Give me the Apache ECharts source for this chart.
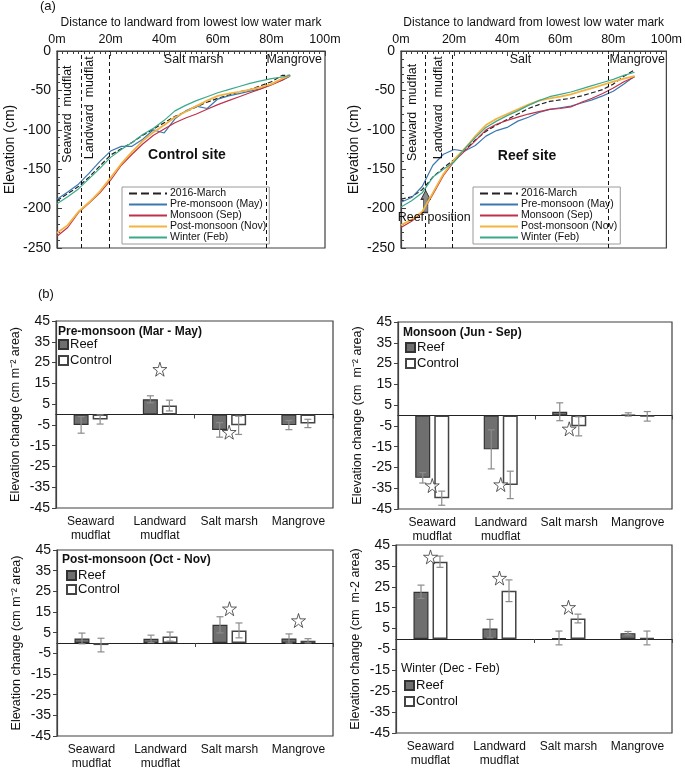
<!DOCTYPE html>
<html><head><meta charset="utf-8">
<script src="https://cdn.jsdelivr.net/npm/echarts@6/dist/echarts.min.js"></script>
<style>html,body{margin:0;padding:0;background:#fff}#c{width:685px;height:771px}</style>
</head><body><div id="c"></div>
<script>
const FONT = 'Liberation Sans, Arial, sans-serif';

// ---------- (a) elevation profiles ----------
const controlDistance = [0,4,8,12,16,20,24,28,32,36,40,44,48,52,56,60,64,68,72,76,80,84,87];
const controlMarch   = [-190,-181,-172,-160,-146,-132,-124,-116,-107,-99,-91,-83,-77,-71,-65,-60,-56,-52,-49,-44,-39,-31,-31];
const controlPre     = [-188,-179,-169,-155,-140,-127,-121,-121,-112,-100,-104,-86,-76,-70,-73,-61,-57,-54,-51,-48,-42,-37,-32];
const controlMonsoon = [-235,-224,-205,-193,-180,-164,-145,-131,-118,-107,-99,-91,-85,-80,-74,-68,-63,-58,-53,-48,-43,-37,-31];
const controlPost    = [-231,-221,-204,-192,-178,-161,-143,-128,-114,-103,-94,-84,-77,-70,-63,-57,-54,-52,-49,-46,-42,-35,-31];
const controlWinter  = [-194,-185,-175,-162,-149,-135,-125,-116,-106,-98,-88,-76,-69,-63,-58,-53,-49,-45,-41,-38,-35,-33,-31];

const reefDistance = [0,4,8,12,16,20,24,28,32,36,40,44,48,52,56,60,64,68,72,76,80,84,88];
const reefMarch   = [-188,-185,-176,-160,-148,-138,-126,-113,-102,-94,-87,-80,-73,-68,-64,-62,-60,-57,-53,-49,-42,-32,-24];
const reefPre     = [-192,-186,-172,-145,-131,-125,-127,-120,-108,-101,-97,-89,-84,-78,-74,-72,-70,-66,-62,-57,-51,-42,-32];
const reefMonsoon = [-224,-216,-205,-182,-158,-140,-127,-114,-100,-93,-88,-84,-80,-77,-74,-73,-71,-65,-60,-54,-47,-39,-33];
const reefPost    = [-221,-214,-204,-180,-156,-138,-124,-108,-94,-86,-80,-74,-68,-63,-60,-58,-55,-51,-47,-43,-39,-35,-32];
const reefWinter  = [-198,-190,-180,-160,-150,-141,-124,-110,-97,-89,-82,-76,-69,-63,-58,-55,-52,-48,-44,-40,-36,-31,-27];

const profileNames = ['2016-March','Pre-monsoon (May)','Monsoon (Sep)','Post-monsoon (Nov)','Winter (Feb)'];
const zoneBounds = [9, 19.5, 78];

// ---------- (b) elevation change ----------
const zones = ['Seaward\nmudflat','Landward\nmudflat','Salt marsh','Mangrove'];
const preReef = [-5.0, 7.3, -7.4, -5.1];     const preReefErr = [4.0, 1.7, 3.5, 2.2];
const preCtrl = [-2.4, 4.3, -5.2, -4.3];     const preCtrlErr = [2.2, 2.6, 4.4, 2.0];
const preStars = [null, 21.8, -8.5, null];
const monReef = [-30.0, -16.3, 1.8, 0.5];    const monReefErr = [2.5, 9.4, 4.3, 0.8];
const monCtrl = [-39.8, -33.4, -5.2, -0.4];  const monCtrlErr = [3.4, 6.6, 4.6, 2.3];
const monStars = [-33.7, -33.2, -6.4, null];
const postReef = [2.2, 2.0, 8.8, 2.2];       const postReefErr = [2.6, 1.8, 3.9, 2.2];
const postCtrl = [-1.0, 3.1, 6.1, 1.1];      const postCtrlErr = [3.3, 2.2, 3.6, 1.0];
const postStars = [null, null, 16.6, 10.9];
const winReef = [22.6, 5.0, 0.5, 2.8];       const winReefErr = [3.2, 4.4, 3.3, 0.8];
const winCtrl = [37.0, 23.1, 9.8, 0.5];      const winCtrlErr = [2.7, 5.2, 2.1, 3.3];
const winStars = [39.3, 29.2, 15.2, null];

// ---------- styles ----------
const profileColors = ['#222222','#3b78b0','#c0304a','#f2b340','#3aa98a'];
const profileWidths = [1.2, 1.2, 1.2, 1.8, 1.2];
const profileTypes = ['dashed','solid','solid','solid','solid'];
const STAR = 'path://M50,0 L61,35 L98,35 L68,57 L79,91 L50,70 L21,91 L32,57 L2,35 L39,35 Z';
const ARROW = 'path://M35,0 L70,40 L52,40 L52,100 L18,100 L18,40 L0,40 Z';

const grids = [
  {left:57, top:51, width:268, height:197},
  {left:401, top:51, width:266, height:197},
  {left:56, top:321, width:277, height:187},
  {left:398, top:322, width:274, height:187},
  {left:57, top:550, width:276, height:186},
  {left:396, top:545, width:276, height:188}
].map(g => Object.assign({show:true, borderColor:'#404040', borderWidth:1.2, backgroundColor:'#fff'}, g));

const xAxes = [], yAxes = [], series = [], titles = [], legends = [];

// profile panels
[[controlDistance,[controlMarch,controlPre,controlMonsoon,controlPost,controlWinter]],
 [reefDistance,[reefMarch,reefPre,reefMonsoon,reefPost,reefWinter]]].forEach(([dist, sets], g) => {
  xAxes.push({
    type:'value', gridIndex:g, position:'top', min:0, max:100, interval:20,
    name:'Distance to landward from lowest low water mark', nameLocation:'middle', nameGap:22,
    nameTextStyle:{fontFamily:FONT, fontSize:12, color:'#111'},
    axisLine:{lineStyle:{color:'#404040', width:1.2}},
    axisTick:{inside:true, length:5, lineStyle:{color:'#404040'}},
    minorTick:{show:true, splitNumber:10, length:3, lineStyle:{color:'#404040'}},
    axisLabel:{formatter:'{value}m', fontFamily:FONT, fontSize:12.5, color:'#111', margin:5},
    splitLine:{show:false}
  });
  yAxes.push({
    type:'value', gridIndex:g, min:-250, max:0, interval:50,
    name:'Elevation (cm)', nameLocation:'middle', nameGap:40, nameRotate:90,
    nameTextStyle:{fontFamily:FONT, fontSize:14, color:'#111'},
    axisLine:{show:true, lineStyle:{color:'#404040', width:1.2}},
    axisTick:{inside:true, length:5, lineStyle:{color:'#404040'}},
    minorTick:{show:true, splitNumber:5, length:3, lineStyle:{color:'#404040'}},
    axisLabel:{fontFamily:FONT, fontSize:14, color:'#111', margin:6},
    splitLine:{show:false}
  });
  sets.forEach((vals, i) => {
    const s = {
      type:'line', name:profileNames[i], xAxisIndex:g, yAxisIndex:g,
      data: dist.map((d, j) => [d, vals[j]]),
      symbol:'none', showSymbol:false, smooth:false, z:2+i,
      lineStyle:{color:profileColors[i], width:profileWidths[i], type:profileTypes[i]},
      itemStyle:{color:profileColors[i]}
    };
    if (i === 0) {
      s.markLine = {silent:true, symbol:'none', label:{show:false},
        lineStyle:{color:'#111', type:[4,3], width:1}, data: zoneBounds.map(b => ({xAxis:b}))};
    }
    if (g === 1 && i === 0) {
      s.markPoint = {silent:true, data:[{coord:[9.3,-191], symbol:ARROW, symbolSize:[9,22],
        itemStyle:{color:'#8c8c8c', borderColor:'#333', borderWidth:1}, label:{show:false}}]};
    }
    series.push(s);
  });
  legends.push({
    data: profileNames, orient:'vertical', left: g === 0 ? 122 : 473, top:187,
    itemWidth:38, itemHeight:9, itemGap:0, padding:[1,3,1,6],
    itemStyle:{opacity:0},
    borderColor:'#9a9a9a', borderWidth:1, backgroundColor:'#fff', selectedMode:false,
    textStyle:{fontFamily:FONT, fontSize:10.5, color:'#111', padding:[0,0,0,-2]}
  });
});

// bar panels
const barSets = [
  ['Pre-monsoon (Mar - May)', preReef, preReefErr, preCtrl, preCtrlErr, preStars, 'Elevation change (cm m⁻² area)', true, {l:58, t:326}, {l:58, t:338, gap:3}],
  ['Monsoon (Jun - Sep)', monReef, monReefErr, monCtrl, monCtrlErr, monStars, 'Elevation change (cm  m⁻² area)', true, {l:403, t:327}, {l:405, t:341, gap:3}],
  ['Post-monsoon (Oct - Nov)', postReef, postReefErr, postCtrl, postCtrlErr, postStars, 'Elevation change (cm m⁻² area)', true, {l:62, t:554}, {l:66, t:569, gap:1}],
  ['Winter (Dec - Feb)', winReef, winReefErr, winCtrl, winCtrlErr, winStars, 'Elevation change (cm  m-2 area)', false, {l:401, t:663}, {l:404, t:679, gap:3}]
];
function errRender(offset) {
  return function (params, api) {
    const c = api.value(0), v = api.value(1), e = api.value(2);
    const p1 = api.coord([c, v + e]), p2 = api.coord([c, v - e]);
    const x = p1[0] + offset;
    const st = {stroke:'#8c8c8c', lineWidth:1.2};
    return {type:'group', children:[
      {type:'line', shape:{x1:x, y1:p1[1], x2:x, y2:p2[1]}, style:st},
      {type:'line', shape:{x1:x-3.5, y1:p1[1], x2:x+3.5, y2:p1[1]}, style:st},
      {type:'line', shape:{x1:x-3.5, y1:p2[1], x2:x+3.5, y2:p2[1]}, style:st}
    ]};
  };
}
barSets.forEach((b, k) => {
  const [title, reef, reefErr, ctrl, ctrlErr, stars, yname, bold, tpos, lpos] = b;
  const g = 2 + k;
  const xa = xAxes.length;
  xAxes.push({type:'category', gridIndex:g, data:zones, position:'bottom',
    axisLine:{show:false, onZero:false}, axisTick:{show:false},
    axisLabel:{fontFamily:FONT, fontSize:12, color:'#111', lineHeight:14, margin:7, interval:0}});
  xAxes.push({type:'category', gridIndex:g, data:zones, position:'bottom',
    axisLine:{show:true, onZero:true, lineStyle:{color:'#222', width:1.2}},
    axisTick:{show:true, length:4, lineStyle:{color:'#444'}}, axisLabel:{show:false}});
  yAxes.push({type:'value', gridIndex:g, min:-45, max:45, interval:10,
    name:yname, nameLocation:'middle', nameGap:34, nameRotate:90,
    nameTextStyle:{fontFamily:FONT, fontSize:12.5, color:'#111'},
    axisLine:{show:true, onZero:false, lineStyle:{color:'#404040', width:1.2}},
    axisTick:{show:true, length:4, lineStyle:{color:'#404040'}},
    axisLabel:{fontFamily:FONT, fontSize:14, color:'#111', margin:6},
    splitLine:{show:false}});
  series.push({type:'bar', name:'Reef', xAxisIndex:xa, yAxisIndex:g, data:reef,
    barWidth:15, barGap:'27%', z:2,
    itemStyle:{color:'#6f6f6f', borderColor:'#333', borderWidth:1.2}});
  series.push({type:'bar', name:'Control', xAxisIndex:xa, yAxisIndex:g, data:ctrl,
    barWidth:15, barGap:'27%', z:2,
    itemStyle:{color:'#ffffff', borderColor:'#444', borderWidth:1.5}});
  series.push({type:'custom', name:'errReef', xAxisIndex:xa, yAxisIndex:g, z:4, silent:true,
    renderItem:errRender(-9.5), encode:{x:0, y:1},
    data: reef.map((v, i) => [i, v, reefErr[i]])});
  series.push({type:'custom', name:'errCtrl', xAxisIndex:xa, yAxisIndex:g, z:4, silent:true,
    renderItem:errRender(9.5), encode:{x:0, y:1},
    data: ctrl.map((v, i) => [i, v, ctrlErr[i]])});
  series.push({type:'scatter', name:'sig', xAxisIndex:xa, yAxisIndex:g, z:5, silent:true,
    symbol:STAR, symbolSize:14,
    itemStyle:{color:'#fff', borderColor:'#333', borderWidth:1},
    data: stars.map((v, i) => v === null ? null : [i, v]).filter(d => d)});
  titles.push({text:title, left:tpos.l, top:tpos.t, padding:0,
    textStyle:{fontFamily:FONT, fontSize:12, fontWeight: bold ? 'bold' : 'normal', color:'#111'}});
  legends.push({data:['Reef','Control'], orient:'vertical', left:lpos.l, top:lpos.t,
    itemWidth:9, itemHeight:9, itemGap:lpos.gap, padding:0, selectedMode:false, icon:'rect',
    textStyle:{fontFamily:FONT, fontSize:13, color:'#111', padding:[0,0,0,-3]}});
});
titles.push({text:'(a)', left:40, top:0, padding:0, textStyle:{fontFamily:FONT, fontSize:13, fontWeight:'normal', color:'#111'}});
titles.push({text:'(b)', left:38, top:288, padding:0, textStyle:{fontFamily:FONT, fontSize:13, fontWeight:'normal', color:'#111'}});

const chart = echarts.init(document.getElementById('c'), null, {renderer:'canvas'});
chart.setOption({
  animation:false, backgroundColor:'#fff', textStyle:{fontFamily:FONT},
  grid:grids, xAxis:xAxes, yAxis:yAxes, series:series, title:titles, legend:legends
});

// in-plot annotations placed in data coordinates
const notes = [
  {g:0, at:[3.9,-80], text:'Seaward  mudflat', rot:true},
  {g:0, at:[12.2,-72], text:'Landward  mudflat', rot:true},
  {g:0, at:[51,-11], text:'Salt marsh'},
  {g:0, at:[88.5,-11], text:'Mangrove'},
  {g:0, at:[48.5,-132], text:'Control site', bold:true},
  {g:1, at:[4.5,-78], text:'Seaward  mudflat', rot:true},
  {g:1, at:[14.0,-72], text:'Landward  mudflat', rot:true},
  {g:1, at:[45,-11], text:'Salt'},
  {g:1, at:[89,-11], text:'Mangrove'},
  {g:1, at:[47.5,-134], text:'Reef site', bold:true},
  {g:1, at:[12.5,-211], text:'Reef position'}
];
const elements = notes.map(n => {
  const p = chart.convertToPixel({gridIndex:n.g}, n.at);
  return {type:'text', x:p[0], y:p[1], rotation: n.rot ? Math.PI/2 : 0, silent:true, z:10,
    style:{text:n.text, fill:'#111', fontFamily:FONT, fontSize: n.bold ? 14 : 12.5,
      fontWeight: n.bold ? 'bold' : 'normal', align:'center', verticalAlign:'middle'}};
});
chart.setOption({graphic:{elements:elements}});
</script></body></html>
